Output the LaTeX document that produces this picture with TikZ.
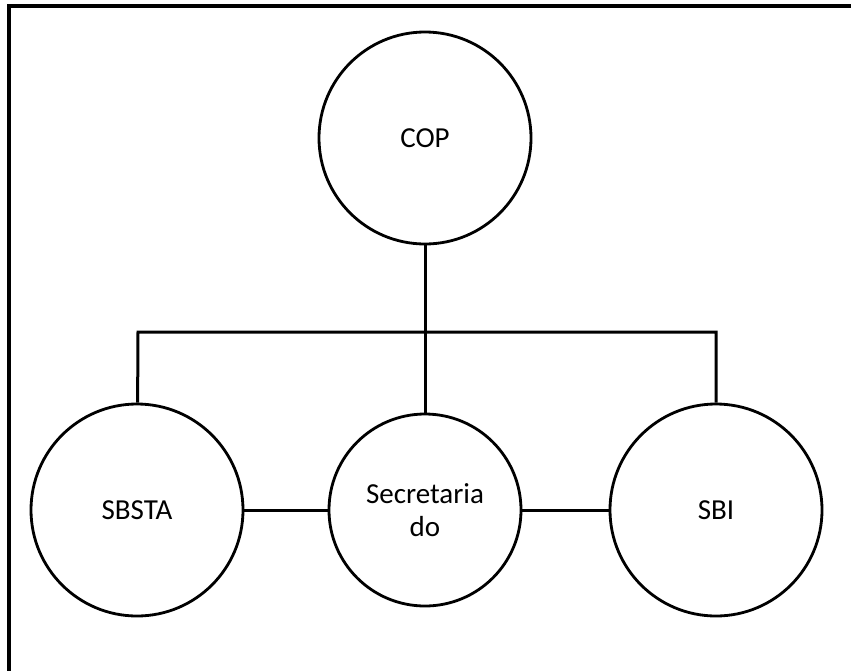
\documentclass[tikz,border=0pt]{standalone}
\usepackage{fontspec}
\setmainfont{Carlito}
\usetikzlibrary{positioning}
\tikzstyle{bigcircle} = [
    circle,
    minimum size=212pt,
    inner sep=0pt,
    line width=2.8pt,
    draw=black,
    font=\fontsize{29}{33}\selectfont
]
\tikzstyle{midcircle} = [
    circle,
    minimum size=192pt,
    inner sep=0pt,
    align=center,
    line width=2.8pt,
    draw=black,
    font=\fontsize{29}{33}\selectfont
]
\tikzstyle{link} = [line width=3pt]

\begin{document}
\begin{tikzpicture}[x=1pt,y=-1pt,node distance=372pt]
\useasboundingbox (0,0) rectangle (851,670);
% frame, cut off at right and bottom
\draw [line width=3.2pt] (870,6) -- (9,6) -- (9,690);

\node (cop) [bigcircle] at (425,138) {COP};
\node (secretaria) [midcircle, below of=cop] {Secretaria\\do};
\node (sbsta) [bigcircle, left of=secretaria, node distance=288pt] {SBSTA};
\node (sbi) [bigcircle, right of=secretaria, node distance=291pt] {SBI};

\coordinate (barL) at (138,332);
\coordinate (barR) at (716,332);

\draw [link] (cop) -- (secretaria);
\draw [link] (sbsta) -- (barL) -- (barR) -- (sbi);
\draw [link] (sbsta) -- (secretaria);
\draw [link] (secretaria) -- (sbi);

\end{tikzpicture}
\end{document}
